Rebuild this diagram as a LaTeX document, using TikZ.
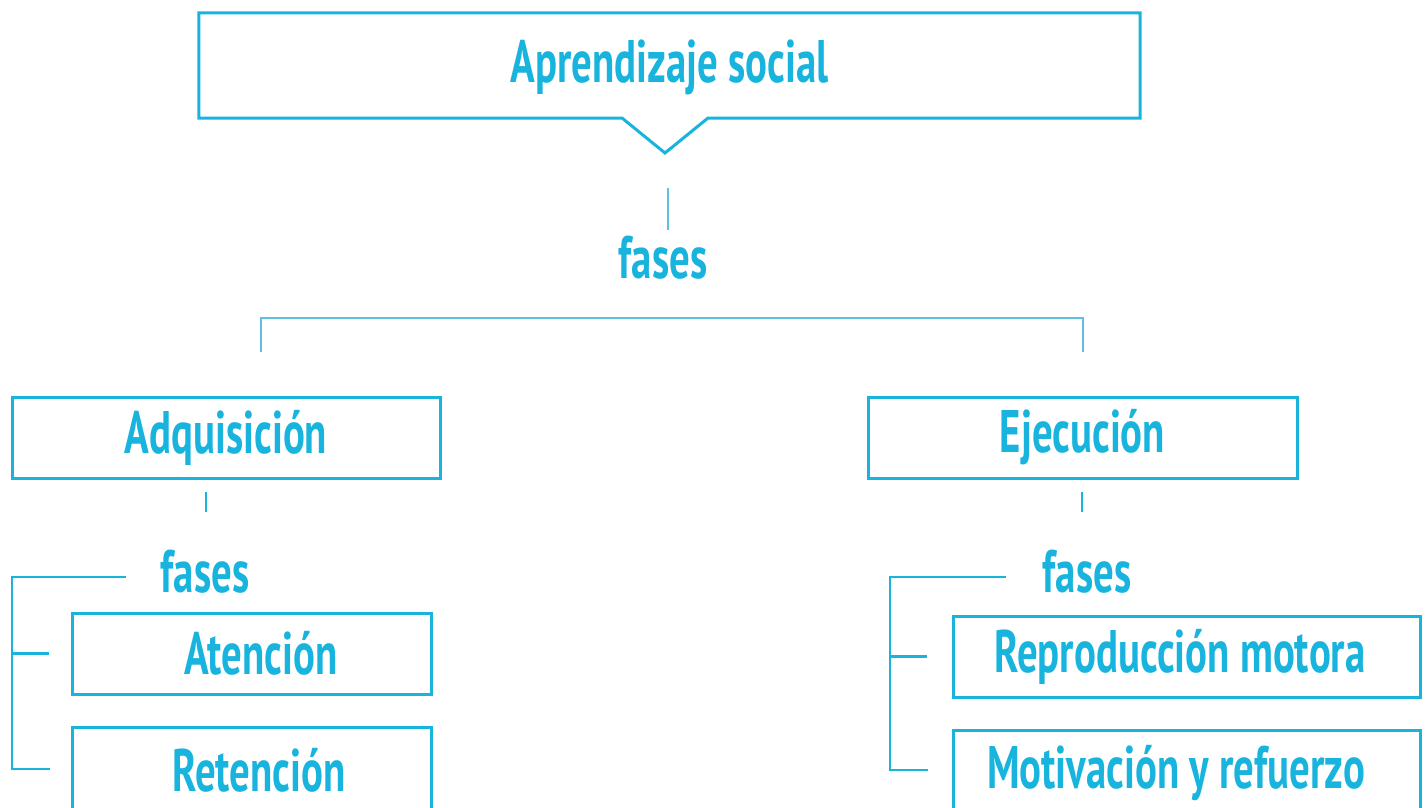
\documentclass[tikz,border=0pt]{standalone}
\usepackage{fontspec}
\setmainfont[FakeStretch=0.68]{PT Sans}
\usetikzlibrary{calc}
\definecolor{cyanline}{RGB}{24,180,221}
\definecolor{cyanlight}{RGB}{95,192,224}
\begin{document}
\begin{tikzpicture}[x=1pt,y=-1pt,
  txt/.style={text=cyanline,inner sep=0pt,font=\fontsize{60}{64}\selectfont\bfseries},
  box/.style={txt,draw=cyanline,line width=3pt,minimum height=81pt},
  link/.style={draw=cyanlight,line width=2.5pt},
  tick/.style={draw=cyanline,line width=2.5pt}]
\useasboundingbox (0,0) rectangle (1427,808);

% title box with a pointer notch
\node[txt,minimum width=941pt,minimum height=105pt,text depth=8pt] (top) at (669.5,65.5) {Aprendizaje social};
\coordinate (apex) at (665,153);
\coordinate (nl) at (622,118);
\coordinate (nr) at (708,118);
\draw[draw=cyanline,line width=3pt,line join=miter]
  (top.south west) -- (top.north west) -- (top.north east) -- (top.south east)
  -- (nr) -- (apex) -- (nl) -- cycle;

\node[txt] (f0) at (663,258) {fases};
\coordinate (d0) at (668,188);
\draw[draw=cyanlight,line width=1.5pt] (d0) -- (d0 |- 0,230);

% first split
\node[box,minimum width=428pt] (adq) at (226,437.5) {Adquisición};
\node[box,minimum width=429pt] (eje) at (1082.5,437.5) {Ejecución};
\coordinate (bl) at (261,352);
\coordinate (br) at (1083,352);
\draw[link] (bl) -- ($(bl)+(0,-34)$) -| (br);

% acquisition phases
\coordinate (ta) at (206,492);
\draw[tick] (ta) -- (206,512);
\node[txt] (f1) at (205,572) {fases};
\node[box,minimum width=359pt] (ate) at (251.5,653.5) {\hspace*{19pt}Atención};
\node[box,minimum width=359pt,minimum height=86pt] (ret) at (251.5,770) {\hspace*{15pt}Retención};
\coordinate (la) at (126,577);
\draw[tick] (la) -- (12,577) -- (12,769) -- (50,769);
\draw[tick] (ate.west -| 12,0) -- ([xshift=-22pt]ate.west);

% execution phases
\coordinate (te) at (1082,492);
\draw[tick] (te) -- (1082,512);
\node[txt] (f2) at (1087,572) {fases};
\node[box,minimum width=467pt] (rep) at (1186.5,656.5) {Reproducción motora\hspace*{13pt}};
\node[box,minimum width=467pt,minimum height=86pt] (mot) at (1186.5,773) {Motivación y refuerzo\hspace*{21pt}};
\coordinate (le) at (1006,577);
\draw[tick] (le) -- (890,577) -- (890,770) -- (928,770);
\draw[tick] (rep.west -| 890,0) -- ([xshift=-25pt]rep.west);
\end{tikzpicture}
\end{document}
